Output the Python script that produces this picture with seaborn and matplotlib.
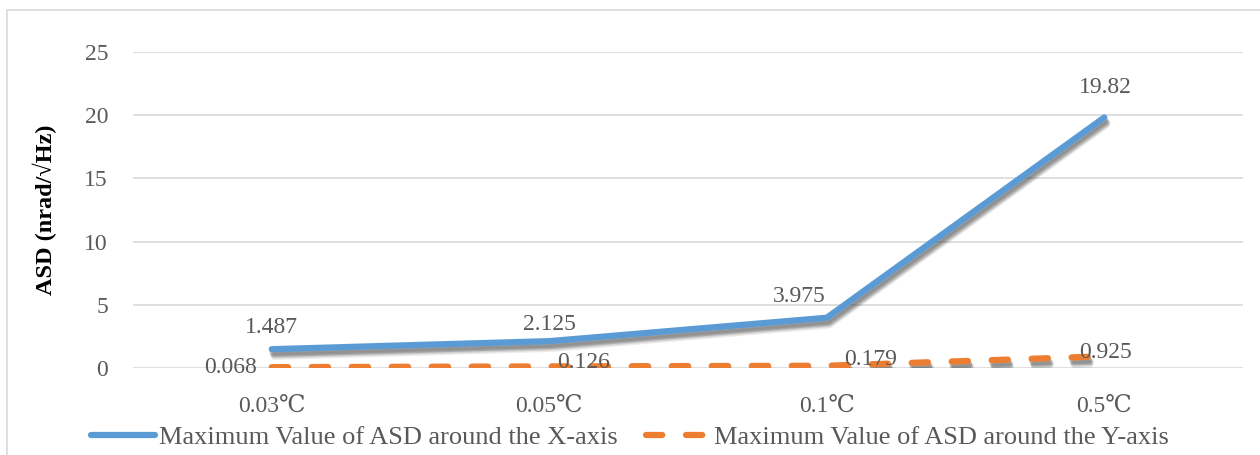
import matplotlib
matplotlib.use("Agg")
import matplotlib.pyplot as plt
import matplotlib.patheffects as pe
from matplotlib.lines import Line2D
from matplotlib.patches import Rectangle
import pandas as pd
import seaborn as sns

# Temperature steps and ASD maxima
categories = ["0.03\u2103", "0.05\u2103", "0.1\u2103", "0.5\u2103"]
asd_x = [1.487, 2.125, 3.975, 19.82]
asd_y = [0.068, 0.126, 0.179, 0.925]
series_names = ["Maximum Value of ASD around the X-axis",
                "Maximum Value of ASD around the Y-axis"]
y_ticks = [0, 5, 10, 15, 20, 25]

BLUE = "#5b9bd5"
ORANGE = "#ed7d31"
TEXT = "#595959"
GRID = "#d9d9d9"
PX = 0.72  # points per pixel at 100 dpi

sns.set_theme(style="white")
plt.rcParams["font.family"] = ["Liberation Serif", "DejaVu Serif"]

fig = plt.figure(figsize=(12.6, 4.55), dpi=100)
ax = fig.add_axes([133 / 1260, 1 - 368 / 455, 1110 / 1260, 316 / 455])

# Chart outline (left and top edges visible)
fig.patches.append(Rectangle((7 / 1260, -0.5), 1.5, 1.5 - 10 / 455,
                             transform=fig.transFigure, fill=False,
                             edgecolor=GRID, lw=1.2))

df_x = pd.DataFrame({"cat": categories, "val": asd_x})
df_y = pd.DataFrame({"cat": categories, "val": asd_y})


def soft_shadow():
    layers = []
    for dx, dy, a in [(0.7, -1.5, 0.10), (1.0, -2.5, 0.15), (1.3, -3.5, 0.17),
                      (1.6, -4.5, 0.15), (1.8, -5.5, 0.10), (0.3, -3.0, 0.08),
                      (2.5, -3.5, 0.08)]:
        layers.append(pe.SimpleLineShadow(offset=(dx, dy), shadow_color="#404040", alpha=a))
    layers.append(pe.Normal())
    return layers


sns.lineplot(data=df_x, x="cat", y="val", ax=ax, color=BLUE, lw=4.5,
             sort=False, solid_capstyle="round", solid_joinstyle="round",
             path_effects=soft_shadow())
sns.lineplot(data=df_y, x="cat", y="val", ax=ax, color=ORANGE, lw=4.5,
             sort=False, dashes=False, path_effects=soft_shadow())
ax.lines[-1].set_dashes((2.6, 3.8))
ax.lines[-1].set_dash_capstyle("round")

ax.set_xlim(-0.5, 3.5)
ax.set_ylim(0, 25)
ax.set_yticks(y_ticks)
ax.yaxis.grid(True, color=GRID, lw=1.2)
ax.set_axisbelow(True)
for s in ax.spines.values():
    s.set_visible(False)
ax.tick_params(axis="both", length=0, labelsize=17, labelcolor=TEXT)
ax.tick_params(axis="y", pad=18)
ax.tick_params(axis="x", pad=20)
ax.set_xlabel("")
ax.set_ylabel("ASD (nrad/\u221aHz)", fontsize=17.5, fontweight="bold",
              color="black", labelpad=20)

# Value labels (offsets in pixels from each point)
x_offsets = [(0, 22), (0, 17), (-27, 21), (1, 30)]
for i, (v, (dx, dy)) in enumerate(zip(asd_x, x_offsets)):
    ax.annotate(f"{v:g}", (i, v), xytext=(dx * PX, dy * PX), textcoords="offset points",
                ha="center", va="center", fontsize=17, color=TEXT)
y_offsets = [(-41, 0), (34, 4), (44, 6), (1, 4)]
for i, (v, (dx, dy)) in enumerate(zip(asd_y, y_offsets)):
    ax.annotate(f"{v:g}", (i, v), xytext=(dx * PX, dy * PX), textcoords="offset points",
                ha="center", va="center", fontsize=17, color=TEXT)

handles = [
    Line2D([], [], color=BLUE, lw=4.5, solid_capstyle="round"),
    Line2D([], [], color=ORANGE, lw=4.5, dashes=(2.6, 3.8), dash_capstyle="round"),
]
fig.legend(handles, series_names, loc="center", bbox_to_anchor=(0.5, 1 - 437 / 455),
           ncol=2, frameon=False, fontsize=19, labelcolor=TEXT,
           handlelength=2.4, handletextpad=0.15, columnspacing=1.1)

fig.savefig("out.png", dpi=100)
